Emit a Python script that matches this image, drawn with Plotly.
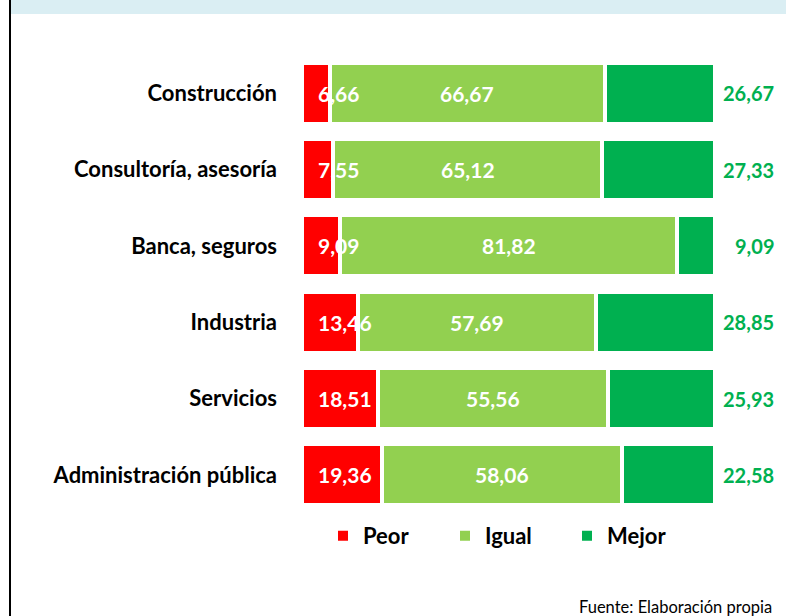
import plotly.graph_objects as go

categories = ["Construcción", "Consultoría, asesoría", "Banca, seguros",
              "Industria", "Servicios", "Administración pública"]
peor = [6.66, 7.55, 9.09, 13.46, 18.51, 19.36]
igual = [66.67, 65.12, 81.82, 57.69, 55.56, 58.06]
mejor = [26.67, 27.33, 9.09, 28.85, 25.93, 22.58]
series_names = ["Peor", "Igual", "Mejor"]
series_colors = ["#FF0000", "#92D050", "#00B050"]

W, H = 786, 616
L, R, T, B = 302, 71, 55, 103
PW, PH = W - L - R, H - T - B

def px_x(x):
    return (x - L) / PW

def px_y(y):
    return (H - B - y) / PH

def fmt(v):
    return f"{v:.2f}".replace(".", ",")

FONT = "Lato"
VAL_FONT = dict(family=FONT, size=21, color="white", weight="bold")

fig = go.Figure()
for name, vals, col in zip(series_names, [peor, igual, mejor], series_colors):
    fig.add_trace(go.Bar(
        y=categories, x=vals, name=name, orientation="h",
        marker=dict(color=col, line=dict(color="white", width=4)),
        textposition="none", hoverinfo="skip",
    ))

annotations = []
for cat, p, g, m in zip(categories, peor, igual, mejor):
    # Peor label: anchored near bar start, drawn over bars
    annotations.append(dict(x=0, y=cat, xref="x", yref="y", text=fmt(p),
                            showarrow=False, xanchor="left", xshift=14, font=VAL_FONT))
    # Igual label: centered on its segment
    annotations.append(dict(x=p + g / 2, y=cat, xref="x", yref="y", text=fmt(g),
                            showarrow=False, xanchor="center", font=VAL_FONT))
    # Mejor label: right-aligned column outside the bar end
    annotations.append(dict(x=p + g + m, y=cat, xref="x", yref="y", text=fmt(m),
                            showarrow=False, xanchor="right", xshift=61,
                            font=dict(family=FONT, size=20, color="#00B050", weight="bold")))
annotations.append(dict(x=px_x(577), y=px_y(607), xref="paper", yref="paper",
                        text="Fuente: Elaboración propia", showarrow=False,
                        xanchor="left", yanchor="middle",
                        font=dict(family=FONT, size=16.5, color="#000000")))

shapes = [
    dict(type="rect", xref="paper", yref="paper", x0=px_x(11), x1=px_x(786),
         y0=px_y(14), y1=px_y(0), fillcolor="#DAEEF3", line=dict(width=0), layer="below"),
    dict(type="line", xref="paper", yref="paper", x0=px_x(10), x1=px_x(10),
         y0=px_y(0), y1=px_y(616), line=dict(color="black", width=2)),
]

fig.update_layout(
    width=W, height=H, barmode="stack", bargap=0.2,
    margin=dict(l=L, r=R, t=T, b=B, autoexpand=False),
    paper_bgcolor="white", plot_bgcolor="white",
    font=dict(family=FONT, color="black"),
    xaxis=dict(range=[0, 100], showticklabels=False, showgrid=False, zeroline=False, fixedrange=True),
    yaxis=dict(categoryorder="array", categoryarray=categories, autorange="reversed",
               ticks="", showgrid=False, ticklabelstandoff=24, fixedrange=True,
               tickfont=dict(family=FONT, size=22, color="black", weight="bold")),
    legend=dict(orientation="h", x=px_x(506), y=px_y(536), xanchor="center", yanchor="middle",
                font=dict(family=FONT, size=22, color="black", weight="bold"),
                entrywidth=77, itemsizing="constant", traceorder="normal"),
    annotations=annotations, shapes=shapes,
)

fig.write_html("out.html", config={"displayModeBar": False},
               post_script="document.body.style.margin='0';")
